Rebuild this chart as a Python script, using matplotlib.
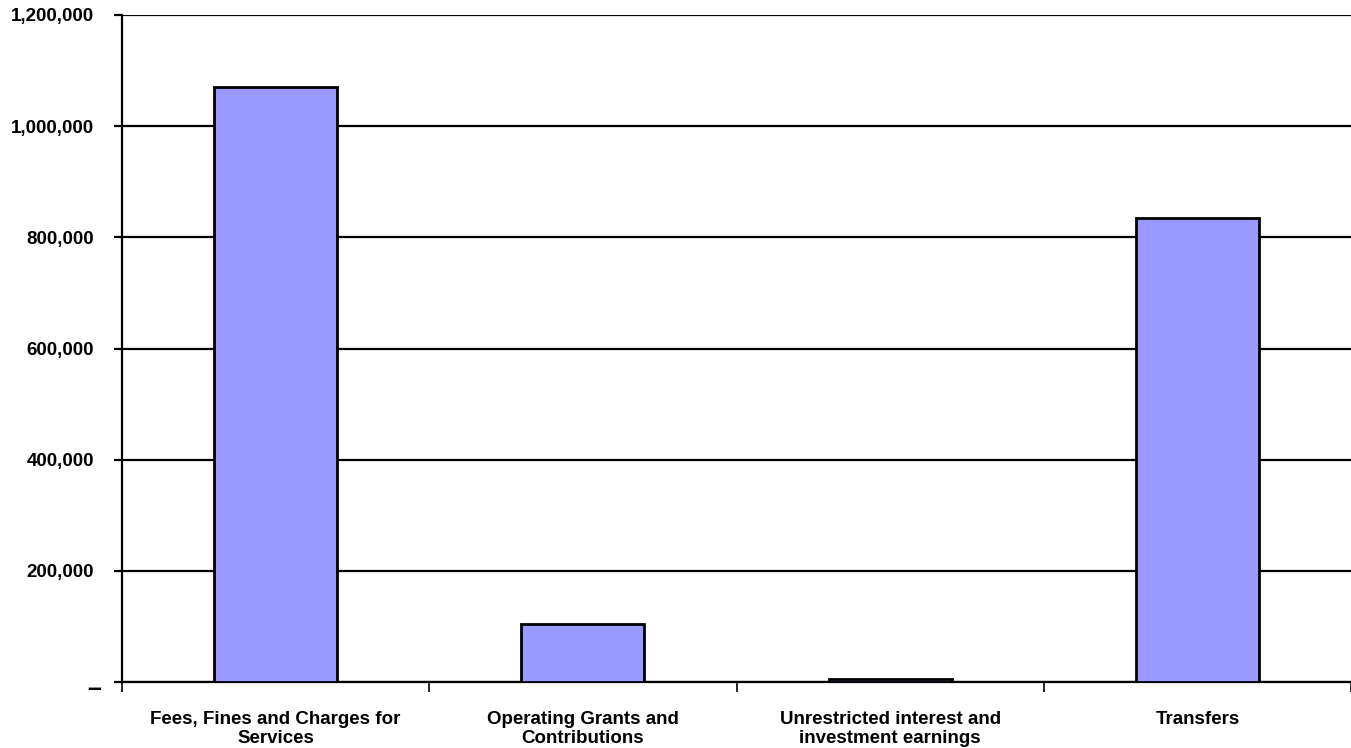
import matplotlib
matplotlib.use("Agg")
import matplotlib.pyplot as plt
from matplotlib.ticker import FuncFormatter, FixedLocator
from matplotlib.transforms import ScaledTranslation

categories = ["Fees, Fines and Charges for\nServices",
              "Operating Grants and\nContributions",
              "Unrestricted interest and\ninvestment earnings",
              "Transfers"]
values = [1071000, 104500, 4500, 835000]
yticks = [0, 200000, 400000, 600000, 800000, 1000000, 1200000]

plt.rcParams['font.family'] = ['Liberation Sans', 'DejaVu Sans']

fig = plt.figure(figsize=(13.51, 7.48), dpi=100)
ax = fig.add_axes([122/1351, 1-682/748, 1-122/1351, (682-15)/748])

x = list(range(len(categories)))
ax.bar(x, values, width=0.4, color="#9999FF", edgecolor="black", linewidth=2, zorder=3)

ax.set_xlim(-0.5, len(categories)-0.5)
ax.set_ylim(0, 1200000)
ax.set_yticks(yticks)
ax.yaxis.set_major_formatter(FuncFormatter(lambda v, p: "–" if v == 0 else f"{int(v):,}"))
ax.grid(axis="y", color="black", linewidth=1.6, zorder=0)
ax.set_axisbelow(True)

ax.set_xticks(x)
ax.set_xticklabels(categories, fontsize=13.5, fontweight="bold", linespacing=1.15)
ax.tick_params(axis="x", length=0, pad=21)
ax.xaxis.set_minor_locator(FixedLocator([i - 0.5 for i in range(len(categories)+1)]))
ax.tick_params(axis="x", which="minor", length=7, width=1.2, direction="out")
ax.tick_params(axis="y", length=6, width=1.6, direction="out", labelsize=13.5, pad=14)
for lab in ax.get_yticklabels():
    lab.set_fontweight("bold")

zero_tick = ax.yaxis.get_major_ticks()[0]
zero_tick.label1.set_fontsize(18)
zero_tick.label1.set_transform(zero_tick.label1.get_transform() +
                               ScaledTranslation(7/100, -4/100, fig.dpi_scale_trans))

for s in ["top", "right"]:
    ax.spines[s].set_visible(False)
ax.spines["left"].set_linewidth(1.6)
ax.spines["bottom"].set_linewidth(1.6)

fig.savefig("out.png", dpi=100)
